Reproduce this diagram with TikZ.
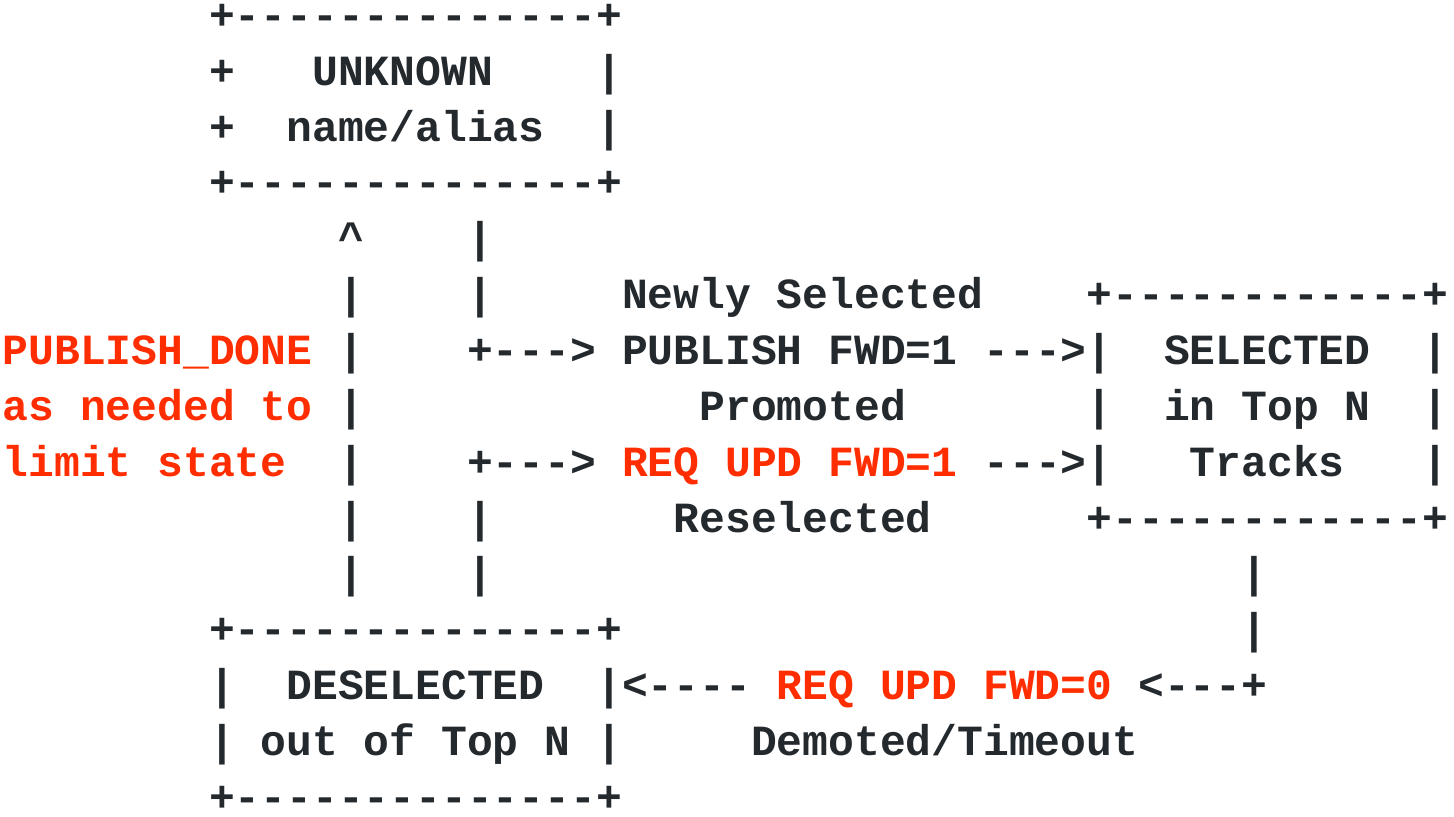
\documentclass[tikz,border=0pt]{standalone}
\usepackage{fontspec}
\setmonofont{Liberation Mono}
\definecolor{ink}{HTML}{24292E}
\definecolor{hot}{HTML}{FF2D00}
\tikzset{
  txt/.style={anchor=base west,inner sep=0pt,outer sep=0pt,text=ink,
    font=\fontsize{32.26}{40}\selectfont\ttfamily\bfseries},
  alert/.style={text=hot},
  plain/.style={}
}
\newcommand\seg[5]{\node[txt,#4] (#1) at ({2.6+#2*25.81},{29.3+#3*55.86}) {#5};}
\begin{document}
\begin{tikzpicture}[x=0.75pt,y=-0.75pt]
\useasboundingbox (0,0) rectangle (1454,817);
% UNKNOWN box
\seg{uTop}{8}{0}{plain}{+--------------+}
\seg{uL1}{8}{1}{plain}{+}
\seg{uT1}{12}{1}{plain}{UNKNOWN}
\seg{uR1}{23}{1}{plain}{|}
\seg{uL2}{8}{2}{plain}{+}
\seg{uT2}{11}{2}{plain}{name/alias}
\seg{uR2}{23}{2}{plain}{|}
\seg{uBot}{8}{3}{plain}{+--------------+}
% row 4
\seg{up4}{13}{4}{plain}{\textasciicircum}
\seg{dn4}{18}{4}{plain}{|}
% row 5
\seg{up5}{13}{5}{plain}{|}
\seg{dn5}{18}{5}{plain}{|}
\seg{newly}{24}{5}{plain}{Newly Selected}
\seg{sTop}{42}{5}{plain}{+------------+}
% row 6
\seg{pd1}{0}{6}{alert}{PUBLISH\textunderscore DONE}
\seg{up6}{13}{6}{plain}{|}
\seg{ar6}{18}{6}{plain}{+--->}
\seg{pub}{24}{6}{plain}{PUBLISH FWD=1}
\seg{ar6b}{38}{6}{plain}{--->|}
\seg{sT1}{45}{6}{plain}{SELECTED}
\seg{sR1}{55}{6}{plain}{|}
% row 7
\seg{pd2}{0}{7}{alert}{as needed to}
\seg{up7}{13}{7}{plain}{|}
\seg{prom}{27}{7}{plain}{Promoted}
\seg{sL2}{42}{7}{plain}{|}
\seg{sT2}{45}{7}{plain}{in Top N}
\seg{sR2}{55}{7}{plain}{|}
% row 8
\seg{pd3}{0}{8}{alert}{limit state}
\seg{up8}{13}{8}{plain}{|}
\seg{ar8}{18}{8}{plain}{+--->}
\seg{req1}{24}{8}{alert}{REQ UPD FWD=1}
\seg{ar8b}{38}{8}{plain}{--->|}
\seg{sT3}{46}{8}{plain}{Tracks}
\seg{sR3}{55}{8}{plain}{|}
% row 9
\seg{up9}{13}{9}{plain}{|}
\seg{dn9}{18}{9}{plain}{|}
\seg{resel}{26}{9}{plain}{Reselected}
\seg{sBot}{42}{9}{plain}{+------------+}
% row 10
\seg{up10}{13}{10}{plain}{|}
\seg{dn10}{18}{10}{plain}{|}
\seg{rv10}{48}{10}{plain}{|}
% row 11
\seg{dTop}{8}{11}{plain}{+--------------+}
\seg{rv11}{48}{11}{plain}{|}
% row 12
\seg{dL1}{8}{12}{plain}{|}
\seg{dT1}{11}{12}{plain}{DESELECTED}
\seg{dR1}{23}{12}{plain}{|<----}
\seg{req0}{30}{12}{alert}{REQ UPD FWD=0}
\seg{ar12}{44}{12}{plain}{<---+}
% row 13
\seg{dL2}{8}{13}{plain}{|}
\seg{dT2}{10}{13}{plain}{out of Top N}
\seg{dR2}{23}{13}{plain}{|}
\seg{demo}{29}{13}{plain}{Demoted/Timeout}
% row 14
\seg{dBot}{8}{14}{plain}{+--------------+}
\end{tikzpicture}
\end{document}
